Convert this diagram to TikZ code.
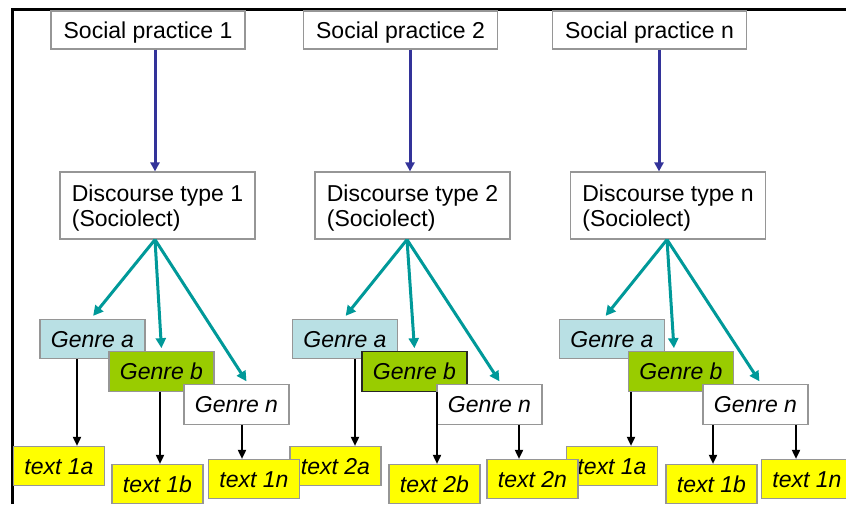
\documentclass[tikz,border=0pt]{standalone}
\usepackage{fontspec}
\setmainfont{Liberation Sans}
\usetikzlibrary{arrows.meta,calc}
\definecolor{boxgray}{RGB}{150,150,150}
\definecolor{bluearr}{RGB}{51,51,153}
\definecolor{tealarr}{RGB}{0,153,153}
\definecolor{lightblue}{RGB}{185,224,228}
\definecolor{genregreen}{RGB}{153,204,0}
\definecolor{textyellow}{RGB}{255,255,0}
\begin{document}
\begin{tikzpicture}[x=1pt,y=-1pt,
 every node/.style={font=\fontsize{23}{25.5}\selectfont, inner sep=0pt},
 box/.style={draw=boxgray, line width=1.2pt, fill=white},
 oneline/.style={text height=16.5pt, text depth=0pt},
 spbox/.style={box, oneline, minimum width=194pt, minimum height=38pt},
 dtbox/.style={box, minimum width=195pt, minimum height=67pt, align=left},
 genrebox/.style={box, oneline, minimum width=105pt, minimum height=39.5pt, font=\fontsize{23}{25.5}\selectfont\itshape},
 gabox/.style={genrebox, fill=lightblue},
 gbbox/.style={genrebox, fill=genregreen},
 gnbox/.style={genrebox},
 txtbox/.style={box, oneline, fill=textyellow, minimum width=91pt, minimum height=39pt, font=\fontsize{23}{25.5}\selectfont\itshape},
 bluearrow/.style={draw=bluearr, line width=3pt, -{Triangle[length=9pt,width=9pt]}},
 tealarrow/.style={draw=tealarr, line width=3pt, shorten >=1pt, -{Triangle[length=10pt,width=10pt]}},
 blackarrow/.style={draw=black, line width=1.8pt, -{Triangle[length=9pt,width=8pt]}},
 framestyle/.style={draw=black, line width=3pt},
]
\useasboundingbox (0,0) rectangle (846,504);
\newcommand{\dtstrut}{\rule{0pt}{21.5pt}}

% ---------- frame ----------
\coordinate (fbl) at (12,504);
\coordinate (ftr) at (846,9);
\draw[framestyle] (fbl) |- (ftr);

% ---------- group 3 ----------
\node[spbox] (sp3) at (649.5,30) {Social practice n};
\node[dtbox] (dt3) at (668,205.5) {\dtstrut Discourse type n\\(Sociolect)};
\coordinate (cb3) at (659,0);
\coordinate (ct3) at (667,0);
\draw[bluearrow] (sp3.south -| cb3) -- (dt3.north -| cb3);
\node[gabox] (ga3) at (612,339) {Genre a};
\node[gbbox] (gb3) at (681,371.5) {Genre b};
\node[gnbox] (gn3) at (755.5,404.5) {Genre n};
\draw[tealarrow] (dt3.south -| ct3) -- ([xshift=-7pt,yshift=2pt]ga3.north);
\draw[tealarrow] (dt3.south -| ct3) -- ([xshift=-7pt,yshift=2pt]gb3.north);
\draw[tealarrow] (dt3.south -| ct3) -- ([xshift=4.5pt,yshift=2pt]gn3.north);
\node[txtbox] (t3a) at (612,466) {text 1a};
\node[txtbox] (t3b) at (711.5,484) {text 1b};
\node[txtbox] (t3n) at (807,479) {text 1n};
\coordinate (xa3) at (631,0);
\coordinate (xb3) at (713,0);
\coordinate (xn3) at (796,0);
\draw[blackarrow] (gb3.south -| xa3) -- (t3a.north -| xa3);
\draw[blackarrow] (gn3.south -| xb3) -- (t3b.north -| xb3);
\draw[blackarrow] (gn3.south -| xn3) -- (t3n.north -| xn3);

% ---------- group 2 ----------
\node[spbox] (sp2) at (400.5,30) {Social practice 2};
\node[dtbox] (dt2) at (412.5,205.5) {\dtstrut Discourse type 2\\(Sociolect)};
\coordinate (cb2) at (410,0);
\coordinate (ct2) at (407,0);
\draw[bluearrow] (sp2.south -| cb2) -- (dt2.north -| cb2);
\node[gabox] (ga2) at (345,339) {Genre a};
\node[gbbox, draw=black!85] (gb2) at (414.5,371.5) {Genre b};
\node[gnbox] (gn2) at (489.5,404.5) {Genre n};
\draw[tealarrow] (dt2.south -| ct2) -- ([yshift=2pt]ga2.north);
\draw[tealarrow] (dt2.south -| ct2) -- ([yshift=2pt]gb2.north);
\draw[tealarrow] (dt2.south -| ct2) -- ([xshift=10.5pt,yshift=2pt]gn2.north);
\node[txtbox] (t2a) at (335.5,466) {text 2a};
\node[txtbox] (t2b) at (434.5,484) {text 2b};
\node[txtbox] (t2n) at (532.5,479) {text 2n};
\coordinate (xa2) at (355,0);
\coordinate (xb2) at (437,0);
\coordinate (xn2) at (519,0);
\draw[blackarrow] (ga2.south -| xa2) -- (t2a.north -| xa2);
\draw[blackarrow] (gb2.south -| xb2) -- (t2b.north -| xb2);
\draw[blackarrow] (gn2.south -| xn2) -- (t2n.north -| xn2);

% ---------- group 1 ----------
\node[spbox] (sp1) at (148,30) {Social practice 1};
\node[dtbox] (dt1) at (157.5,205.5) {\dtstrut Discourse type 1\\(Sociolect)};
\coordinate (cb1) at (155,0);
\coordinate (ct1) at (155,0);
\draw[bluearrow] (sp1.south -| cb1) -- (dt1.north -| cb1);
\node[gabox] (ga1) at (92.5,339) {Genre a};
\node[gbbox] (gb1) at (161.5,371.5) {Genre b};
\node[gnbox] (gn1) at (236.5,404.5) {Genre n};
\draw[tealarrow] (dt1.south -| ct1) -- ([yshift=2pt]ga1.north);
\draw[tealarrow] (dt1.south -| ct1) -- ([yshift=2pt]gb1.north);
\draw[tealarrow] (dt1.south -| ct1) -- ([xshift=10.5pt,yshift=2pt]gn1.north);
\node[txtbox] (t1a) at (59,466) {text 1a};
\node[txtbox] (t1b) at (157.5,484) {text 1b};
\node[txtbox] (t1n) at (254,479) {text 1n};
\coordinate (xa1) at (77,0);
\coordinate (xb1) at (160,0);
\coordinate (xn1) at (242,0);
\draw[blackarrow] (ga1.south -| xa1) -- (t1a.north -| xa1);
\draw[blackarrow] (gb1.south -| xb1) -- (t1b.north -| xb1);
\draw[blackarrow] (gn1.south -| xn1) -- (t1n.north -| xn1);
\end{tikzpicture}
\end{document}
